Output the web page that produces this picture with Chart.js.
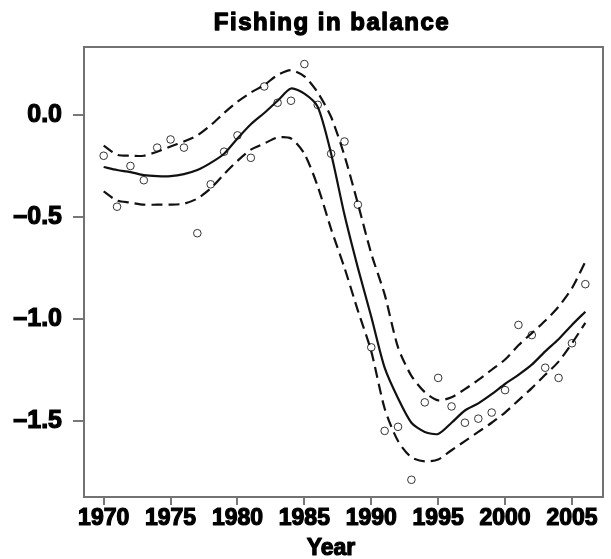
<!DOCTYPE html>
<html><head><meta charset="utf-8">
<script src="https://cdn.jsdelivr.net/npm/chart.js@4.4.1/dist/chart.umd.min.js"></script>
<style>html,body{margin:0;padding:0;background:#fff}#wrap{width:611px;height:559px}</style>
</head><body><div id="wrap"><canvas id="c" width="611" height="559"></canvas></div>
<script>
const chartTitle = 'Fishing in balance';
const xAxisTitle = 'Year';
const years = [1970,1971,1972,1973,1974,1975,1976,1977,1978,1979,1980,1981,1982,1983,1984,1985,1986,1987,1988,1989,1990,1991,1992,1993,1994,1995,1996,1997,1998,1999,2000,2001,2002,2003,2004,2005,2006];
const observed = [-0.20,-0.45,-0.25,-0.32,-0.16,-0.12,-0.16,-0.58,-0.34,-0.18,-0.10,-0.21,0.14,0.06,0.07,0.25,0.05,-0.19,-0.13,-0.44,-1.14,-1.55,-1.53,-1.79,-1.41,-1.29,-1.43,-1.51,-1.49,-1.46,-1.35,-1.03,-1.08,-1.24,-1.29,-1.12,-0.83];
const fitted = [-0.255,-0.27,-0.28,-0.295,-0.30,-0.30,-0.29,-0.27,-0.235,-0.19,-0.115,-0.045,0.01,0.07,0.13,0.105,0.04,-0.19,-0.49,-0.75,-0.99,-1.24,-1.39,-1.51,-1.555,-1.565,-1.51,-1.45,-1.415,-1.37,-1.32,-1.275,-1.225,-1.16,-1.10,-1.03,-0.965];
const upperCI = [-0.15,-0.195,-0.20,-0.20,-0.18,-0.155,-0.13,-0.10,-0.05,0.01,0.065,0.11,0.147,0.196,0.22,0.19,0.11,-0.01,-0.20,-0.435,-0.68,-0.88,-1.14,-1.28,-1.36,-1.40,-1.385,-1.345,-1.30,-1.25,-1.20,-1.13,-1.07,-1.01,-0.94,-0.85,-0.72];
const lowerCI = [-0.375,-0.42,-0.43,-0.44,-0.44,-0.44,-0.435,-0.41,-0.36,-0.29,-0.225,-0.17,-0.14,-0.11,-0.115,-0.19,-0.35,-0.56,-0.75,-0.96,-1.16,-1.44,-1.60,-1.68,-1.70,-1.69,-1.645,-1.60,-1.555,-1.51,-1.46,-1.40,-1.34,-1.275,-1.21,-1.12,-1.02];
const xTicks = [1970,1975,1980,1985,1990,1995,2000,2005];
const yTicks = [0,-0.5,-1,-1.5];
const yTickLabels = ['0.0','\u20130.5','\u20131.0','\u20131.5'];

const pts = arr => years.map((y,i) => ({x: y, y: arr[i]}));
const FONT = 'Liberation Sans, Arial, sans-serif';

const boxAndText = {
  id: 'boxAndText',
  afterDraw(chart) {
    const {ctx, chartArea: a} = chart;
    ctx.save();
    ctx.strokeStyle = '#727272';
    ctx.lineWidth = 2;
    ctx.strokeRect(a.left, a.top, a.right - a.left, a.bottom - a.top);
    ctx.fillStyle = '#000';
    ctx.strokeStyle = '#000';
    ctx.lineJoin = 'round';
    ctx.textAlign = 'center';
    ctx.textBaseline = 'alphabetic';
    ctx.font = 'bold 24px ' + FONT;
    try { ctx.letterSpacing = '1.5px'; } catch(e) {}
    ctx.lineWidth = 1.3;
    ctx.fillText(chartTitle, 332, 30);
    ctx.strokeText(chartTitle, 332, 30);
    try { ctx.letterSpacing = '0px'; } catch(e) {}
    ctx.font = 'bold 23px ' + FONT;
    ctx.lineWidth = 1.2;
    ctx.fillText(xAxisTitle, 331, 555);
    ctx.strokeText(xAxisTitle, 331, 555);
    ctx.restore();
  }
};

new Chart(document.getElementById('c'), {
  type: 'scatter',
  data: {
    datasets: [
      {data: pts(fitted), showLine: true, borderColor: '#111', borderWidth: 2.2, pointRadius: 0, tension: 0.25, fill: false},
      {data: pts(upperCI), showLine: true, borderColor: '#111', borderWidth: 2.2, borderDash: [11, 6], pointRadius: 0, tension: 0.25, fill: false},
      {data: pts(lowerCI), showLine: true, borderColor: '#111', borderWidth: 2.2, borderDash: [11, 6], pointRadius: 0, tension: 0.25, fill: false},
      {data: pts(observed), showLine: false, pointStyle: 'circle', pointRadius: 3.8, borderWidth: 1, borderColor: '#333', backgroundColor: 'rgba(0,0,0,0)'}
    ]
  },
  options: {
    responsive: false,
    animation: false,
    devicePixelRatio: 1,
    layout: {padding: {top: 47, right: 8, left: 0, bottom: 0}},
    plugins: {legend: {display: false}, tooltip: {enabled: false}, title: {display: false}},
    scales: {
      x: {
        type: 'linear', min: 1968.53, max: 2007.32,
        afterBuildTicks: s => { s.ticks = xTicks.map(v => ({value: v})); },
        afterFit: s => { s.height = 62; },
        ticks: {callback: v => String(v), font: {family: FONT, weight: 'bold', size: 23}, color: '#000', textStrokeColor: '#000', textStrokeWidth: 1.2, padding: 0, maxRotation: 0, autoSkip: false},
        grid: {display: true, drawOnChartArea: false, drawTicks: true, tickLength: 8, color: '#777', lineWidth: 2},
        border: {display: true, color: '#727272', width: 2}
      },
      y: {
        type: 'linear', min: -1.8744, max: 0.3337,
        afterBuildTicks: s => { s.ticks = yTicks.map(v => ({value: v})); },
        afterFit: s => { s.width = 84; },
        ticks: {callback: (v) => yTickLabels[yTicks.indexOf(v)], font: {family: FONT, weight: 'bold', size: 25}, color: '#000', textStrokeColor: '#000', textStrokeWidth: 1.2, padding: 11, autoSkip: false},
        grid: {display: true, drawOnChartArea: false, drawTicks: true, tickLength: 11, color: '#777', lineWidth: 2},
        border: {display: true, color: '#727272', width: 2}
      }
    }
  },
  plugins: [boxAndText]
});
</script>
</body></html>
